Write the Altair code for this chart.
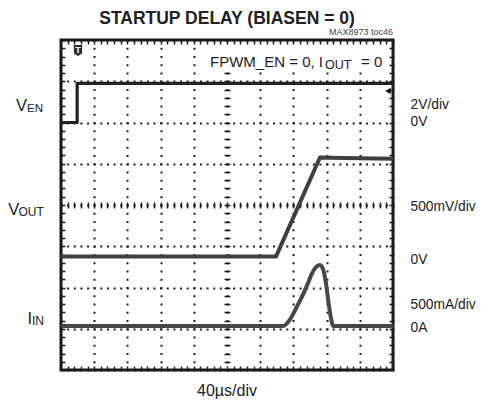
import altair as alt
import pandas as pd

# ---------------- data ----------------
# time axis in microseconds (40 us/div, 10 div)
ven_t = [0, 19.5, 19.5, 400]
ven_v = [0, 0, 1.9, 1.9]            # volts, 2 V/div, 0 V at division 6

vout_t = [0, 259, 312, 340, 400]
vout_v = [0, 0, 1.2, 1.195, 1.185]  # volts, 500 mV/div, 0 V at division 2.75

iin_t = [0, 267.8, 275.9, 284, 291.9, 298, 302, 308, 312, 316, 319.2, 322, 325, 328, 400]
iin_a = [0, 0, 0.08, 0.23, 0.39, 0.53, 0.63, 0.72, 0.74, 0.68, 0.52, 0.31, 0.11, 0, 0]  # amps, 500 mA/div, 0 A at div 1.067

VEN_OFF, VEN_DIV = 6.0, 2.0
VOUT_OFF, VOUT_DIV = 2.75, 0.5
IIN_OFF, IIN_DIV = 1.067, 0.5

W, H = 332, 330
FONT = "Liberation Sans, Arial, Helvetica"
INK = "#1e1e1e"

ven = pd.DataFrame({"t": ven_t, "d": [VEN_OFF + v / VEN_DIV for v in ven_v]})
vout = pd.DataFrame({"t": vout_t, "d": [VOUT_OFF + v / VOUT_DIV for v in vout_v]})
iin = pd.DataFrame({"t": iin_t, "d": [IIN_OFF + a / IIN_DIV for a in iin_a]})

xs = alt.Scale(domain=[0, 400], nice=False, zero=False)
ys = alt.Scale(domain=[0, 8], nice=False, zero=False)

major_x = [i * 40 for i in range(11)]
major_y = list(range(9))
minor_x = [i * 8 for i in range(51)]
minor_y = [round(i * 0.2, 2) for i in range(41)]

carrier = pd.DataFrame({"t": [0], "d": [0]})


def axis_layer(xaxis, yaxis):
    return alt.Chart(carrier).mark_point(opacity=0).encode(
        x=alt.X("t:Q", scale=xs, axis=xaxis),
        y=alt.Y("d:Q", scale=ys, axis=yaxis),
    )


common = dict(labels=False, domain=False, title=None)

grid = axis_layer(
    alt.Axis(orient="bottom", values=major_x, grid=True, gridDash=[2, 6.25], gridDashOffset=1,
             gridColor=INK, gridWidth=2, gridOpacity=1, ticks=False, **common),
    alt.Axis(orient="left", values=major_y, grid=True, gridDash=[2, 4.64], gridDashOffset=1,
             gridColor=INK, gridWidth=2, gridOpacity=1, ticks=False, **common),
)

tick_style = dict(grid=False, ticks=True, tickColor=INK, tickWidth=1.5, **common)

edges_a = axis_layer(
    alt.Axis(orient="bottom", values=minor_x, offset=-4, tickSize=4, **tick_style),
    alt.Axis(orient="left", values=minor_y, offset=-4, tickSize=4, **tick_style),
)
edges_b = axis_layer(
    alt.Axis(orient="top", values=minor_x, offset=-4, tickSize=4, **tick_style),
    alt.Axis(orient="right", values=minor_y, offset=-4, tickSize=4, **tick_style),
)
center = axis_layer(
    alt.Axis(orient="bottom", values=minor_x, offset=-(H / 2 + 3), tickSize=6, **tick_style),
    alt.Axis(orient="left", values=minor_y, offset=-(W / 2 + 3), tickSize=6, **tick_style),
)


def trace(df, color, width, interp="linear"):
    return alt.Chart(df).mark_line(color=color, strokeWidth=width, interpolate=interp,
                                   strokeJoin="round", clip=True).encode(
        x=alt.X("t:Q", scale=xs, axis=None),
        y=alt.Y("d:Q", scale=ys, axis=None),
    )


t_ven = trace(ven, "#222222", 3.2)
t_vout = trace(vout, "#404040", 4)
t_iin = trace(iin, "#474747", 4, "monotone")


def label(text, x, y, size=15, align="left", baseline="middle", weight="normal", color="#222222"):
    return alt.Chart(pd.DataFrame({"s": [text]})).mark_text(
        align=align, baseline=baseline, fontSize=size, font=FONT, fontWeight=weight, color=color
    ).encode(x=alt.value(x), y=alt.value(y), text="s:N")


# white box behind the on-screen condition text
note_box = alt.Chart(pd.DataFrame({"s": [""]})).mark_rect(color="white").encode(
    x=alt.value(146), x2=alt.value(327), y=alt.value(5), y2=alt.value(32)
)

labels = [
    label("STARTUP DELAY (BIASEN = 0)", 166, -15.8, size=17.5, align="center", weight="bold",
          baseline="alphabetic"),
    label("MAX8973 toc46", 332, -8.5, size=9, align="right", color="#444444"),
    label("FPWM_EN = 0, I", 262, 26.5, size=15, align="right", baseline="alphabetic"),
    label("OUT", 264, 29, size=12.5, baseline="alphabetic"),
    label("= 0", 300, 26.5, size=15, baseline="alphabetic"),
    # left channel names
    label("V", -45, 71, size=16.5, baseline="alphabetic"),
    label("EN", -34, 71.5, size=11.5, baseline="alphabetic"),
    label("V", -52.7, 175, size=16.5, baseline="alphabetic"),
    label("OUT", -42.5, 175.5, size=12, baseline="alphabetic"),
    label("I", -33.5, 284, size=16.5, baseline="alphabetic"),
    label("IN", -29, 284.5, size=12, baseline="alphabetic"),
    # right scale notes
    label("2V/div", 349.5, 65, size=13.8),
    label("0V", 349.5, 81.7, size=13.8),
    label("500mV/div", 349.5, 166.7, size=13.8),
    label("0V", 349.5, 220, size=13.8),
    label("500mA/div", 349.5, 265, size=13.8),
    label("0A", 349.5, 288.3, size=13.8),
    label("40µs/div", 166, 351, size=16, align="center"),
]

badge = alt.Chart(pd.DataFrame({"s": ["T"]})).mark_point(
    shape="M -0.75 -1 L 0.75 -1 L 0.75 0.55 L 0 1 L -0.75 0.55 Z",
    filled=True, color="#2a2a2a", opacity=1, size=121,
).encode(x=alt.value(17), y=alt.value(10.5))
badge_t = alt.Chart(pd.DataFrame({"s": ["T"]})).mark_text(
    fontSize=9, fontWeight="bold", color="white", font=FONT, baseline="middle"
).encode(x=alt.value(17), y=alt.value(9.5), text="s:N")
arrow = alt.Chart(pd.DataFrame({"s": ["T"]})).mark_point(
    shape="triangle-left", filled=True, color="#111111", opacity=1, size=40,
).encode(x=alt.value(327), y=alt.value(51))

chart = alt.layer(
    grid, edges_a, edges_b, center, note_box, t_ven, t_vout, t_iin, badge, badge_t, arrow, *labels
).resolve_scale(x="independent", y="independent").resolve_axis(
    x="independent", y="independent"
).properties(
    width=W, height=H,
    padding={"left": 53, "top": 32, "right": 83, "bottom": 30},
    autosize=alt.AutoSizeParams(type="none"),
    background="white",
).configure_view(stroke="#1a1a1a", strokeWidth=3)

chart.save("out.html", embed_options={"renderer": "svg", "actions": False})
